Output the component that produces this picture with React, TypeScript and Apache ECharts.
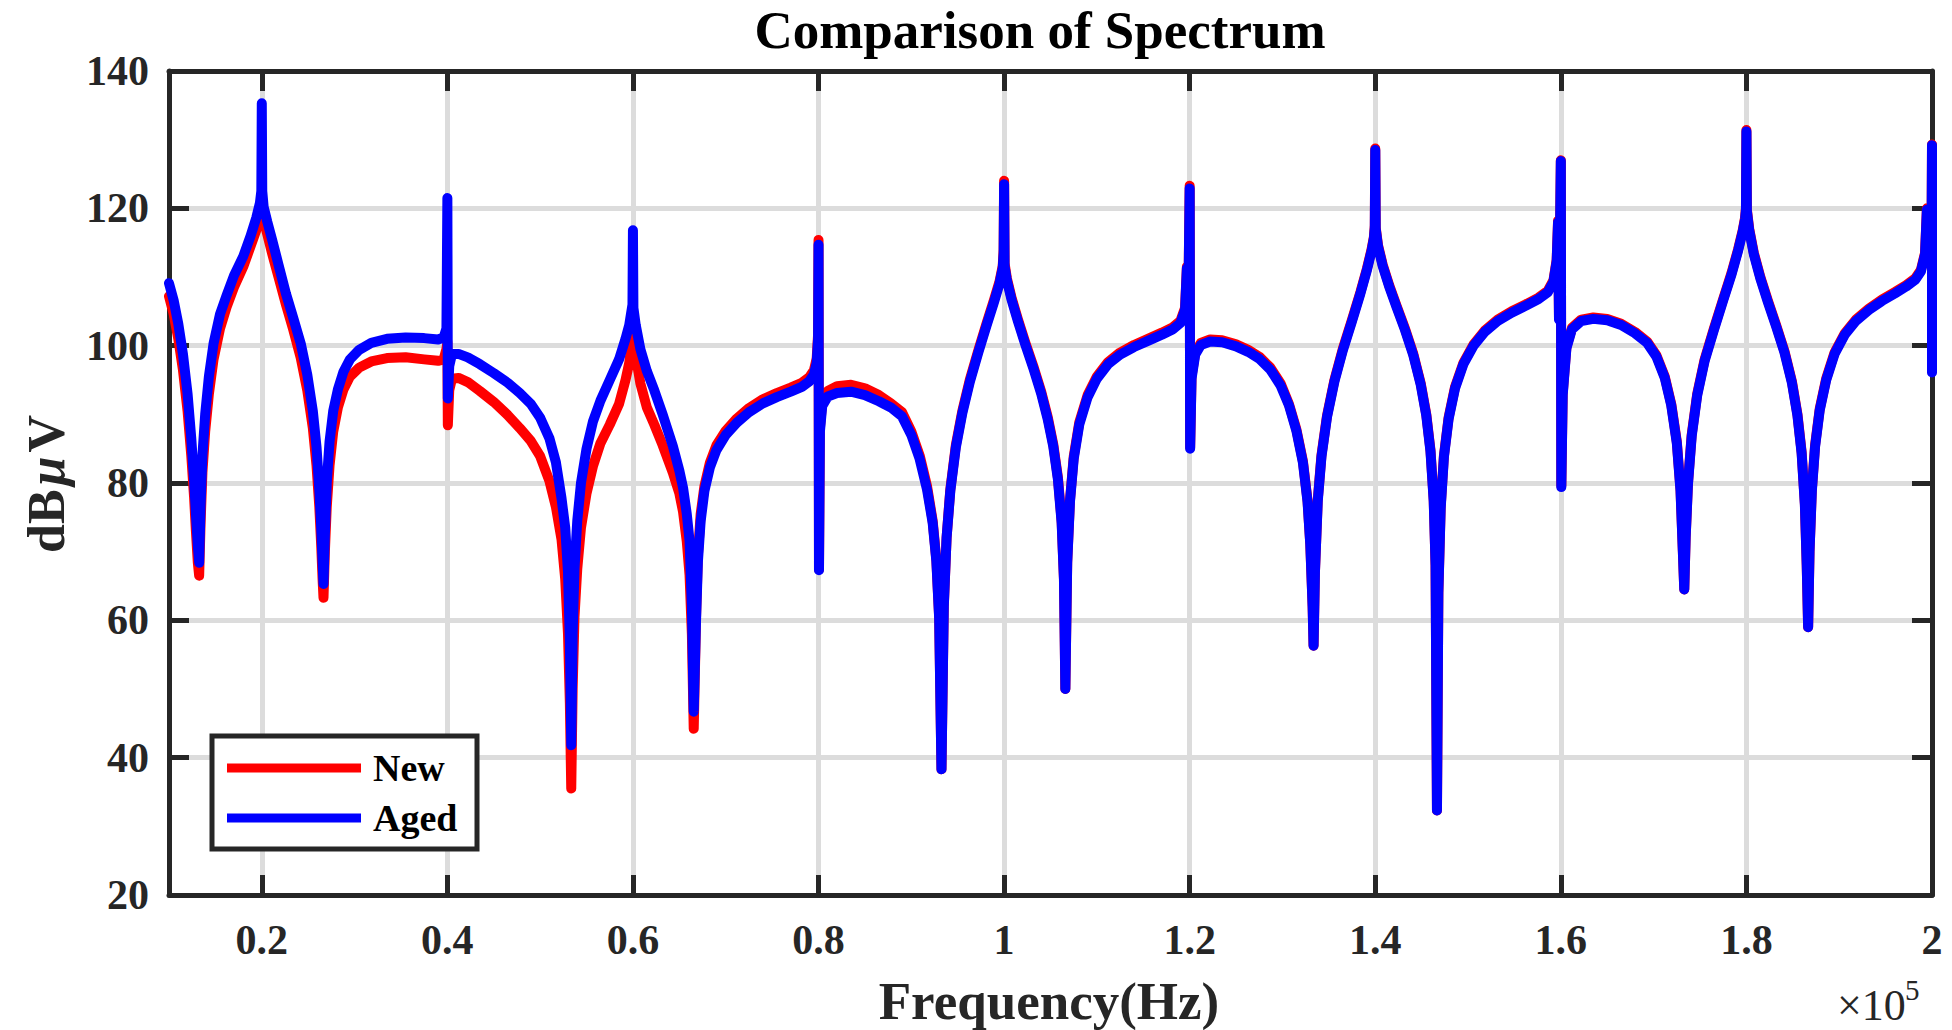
import React, { useEffect, useRef } from "react";
import * as echarts from "echarts";

// Frequency in units of 1e5 Hz (axis shows "x10^5")
const freq = [
  0.1, 0.105, 0.11, 0.115, 0.12, 0.124, 0.127, 0.129, 0.131, 0.1325, 0.134, 0.136, 0.139, 0.143, 0.148, 0.155, 0.162, 0.17, 0.18, 0.188, 0.194, 0.198, 0.1995, 0.2,
  0.2005, 0.202, 0.206, 0.211, 0.218, 0.226, 0.234, 0.242, 0.249, 0.255, 0.259, 0.262, 0.264, 0.2655, 0.2665, 0.268, 0.27, 0.273, 0.277, 0.282, 0.288, 0.295, 0.305, 0.318, 0.335, 0.355, 0.375, 0.39, 0.396, 0.399, 0.4,
  0.4005, 0.402, 0.405, 0.412, 0.422, 0.435, 0.45, 0.465, 0.478, 0.49, 0.5, 0.51, 0.517, 0.523, 0.527, 0.53, 0.532, 0.5335, 0.535, 0.537, 0.54, 0.544, 0.55, 0.557, 0.565, 0.575, 0.585, 0.592, 0.596, 0.5995, 0.6,
  0.6005, 0.603, 0.608, 0.615, 0.623, 0.632, 0.643, 0.65, 0.654, 0.658, 0.661, 0.6635, 0.6655, 0.668, 0.67, 0.673, 0.677, 0.683, 0.69, 0.7, 0.712, 0.725, 0.74, 0.755, 0.77, 0.782, 0.79, 0.795, 0.798, 0.7995, 0.8,
  0.8005, 0.8015, 0.804, 0.81, 0.82, 0.835, 0.85, 0.865, 0.878, 0.89, 0.9, 0.909, 0.917, 0.923, 0.927, 0.93, 0.9325, 0.935, 0.938, 0.942, 0.948, 0.955, 0.963, 0.972, 0.981, 0.989, 0.995, 0.9985, 0.9995, 1.0,
  1.0005, 1.003, 1.008, 1.015, 1.023, 1.032, 1.04, 1.047, 1.053, 1.058, 1.062, 1.0645, 1.066, 1.068, 1.071, 1.075, 1.081, 1.09, 1.1, 1.112, 1.125, 1.14, 1.155, 1.17, 1.182, 1.19, 1.195, 1.197, 1.1985, 1.2,
  1.2005, 1.202, 1.206, 1.212, 1.222, 1.235, 1.25, 1.263, 1.275, 1.287, 1.298, 1.307, 1.315, 1.322, 1.327, 1.33, 1.3325, 1.3335, 1.335, 1.338, 1.342, 1.348, 1.356, 1.365, 1.375, 1.384, 1.391, 1.396, 1.3985, 1.3995, 1.4,
  1.4005, 1.403, 1.408, 1.415, 1.423, 1.432, 1.441, 1.449, 1.455, 1.4595, 1.463, 1.465, 1.4665, 1.468, 1.4705, 1.474, 1.479, 1.486, 1.495, 1.506, 1.518, 1.532, 1.547, 1.562, 1.576, 1.586, 1.592, 1.5955, 1.597, 1.598, 1.6,
  1.6005, 1.602, 1.606, 1.612, 1.622, 1.635, 1.65, 1.665, 1.68, 1.693, 1.703, 1.712, 1.719, 1.725, 1.729, 1.7315, 1.733, 1.7345, 1.737, 1.741, 1.747, 1.755, 1.765, 1.775, 1.784, 1.791, 1.796, 1.7985, 1.7995, 1.8,
  1.8005, 1.803, 1.808, 1.815, 1.823, 1.832, 1.841, 1.849, 1.855, 1.8595, 1.863, 1.865, 1.8665, 1.868, 1.8705, 1.874, 1.879, 1.886, 1.895, 1.906, 1.918, 1.932, 1.946, 1.96, 1.972, 1.982, 1.988, 1.9925, 1.9945, 1.996, 1.9995, 2.0, 2.0,
];

const newDb = [
  107.2, 104.6, 101.0, 96.5, 90.5, 84.0, 78.0, 73.0, 68.5, 66.5, 74.0, 81.5, 87.5, 93.0, 98.0, 102.5, 105.6, 108.5, 111.5, 114.5, 116.8, 118.5, 119.2, 119.5,
  119.2, 118.3, 116.2, 113.5, 110.0, 106.0, 102.3, 98.2, 93.5, 88.0, 82.5, 76.5, 71.0, 66.0, 63.3, 70.0, 76.5, 82.5, 87.5, 91.0, 93.6, 95.5, 96.8, 97.7, 98.2, 98.3, 98.0, 97.8, 98.0, 99.5, 100.5,
  88.4, 93.5, 95.2, 95.3, 94.7, 93.4, 91.8, 89.9, 88.0, 86.1, 83.9, 80.3, 76.5, 71.8, 66.0, 58.0, 48.0, 35.5, 50.0, 60.5, 67.5, 73.5, 78.5, 82.5, 85.8, 88.5, 91.5, 95.0, 97.5, 101.3, 101.8,
  101.0, 98.5, 94.5, 91.0, 88.5, 85.5, 81.5, 78.5, 75.8, 71.5, 66.6, 58.0, 44.2, 60.5, 69.5, 75.5, 79.5, 83.0, 85.5, 87.6, 89.4, 90.9, 92.2, 93.1, 93.9, 94.6, 95.4, 96.4, 98.1, 101.6, 115.4,
  67.4, 88.0, 91.8, 93.4, 94.1, 94.3, 93.8, 92.8, 91.6, 90.3, 87.5, 84.0, 79.5, 74.5, 68.8, 60.5, 38.3, 62.0, 72.0, 79.0, 85.5, 90.5, 95.0, 99.2, 103.2, 106.6, 109.3, 111.6, 114.0, 124.0,
  112.0, 109.8, 107.0, 103.8, 100.4, 96.8, 93.3, 89.6, 85.6, 80.8, 74.5, 66.0, 50.0, 68.5, 77.5, 83.8, 88.8, 92.8, 95.5, 97.6, 99.0, 100.1, 101.0, 101.9, 102.7, 103.6, 105.5, 111.5, 106.0, 123.3,
  85.2, 95.5, 99.0, 100.4, 100.9, 100.8, 100.2, 99.4, 98.4, 96.8, 94.5, 91.5, 87.8, 83.2, 77.5, 71.0, 62.0, 56.3, 67.0, 77.5, 84.0, 89.8, 95.0, 99.5, 103.8, 107.8, 111.2, 114.0, 115.8, 117.5, 128.7,
  117.2, 114.6, 111.8, 108.8, 105.8, 102.5, 98.8, 94.5, 90.0, 84.8, 77.5, 68.0, 32.3, 64.0, 76.5, 84.0, 89.5, 94.0, 97.5, 100.2, 102.2, 103.8, 105.0, 106.0, 107.0, 108.0, 109.5, 112.5, 118.2, 104.0, 127.0,
  79.6, 93.0, 99.8, 102.6, 103.8, 104.1, 103.9, 103.2, 102.0, 100.6, 98.6, 95.5, 91.5, 86.0, 79.0, 70.0, 64.5, 72.0, 80.0, 87.0, 93.0, 98.0, 102.5, 106.8, 110.6, 114.0, 116.8, 118.6, 120.0, 131.4,
  119.8, 117.0, 113.5, 110.0, 106.6, 103.0, 99.2, 94.8, 90.0, 84.5, 77.0, 68.0, 59.0, 70.0, 79.0, 85.5, 90.8, 95.2, 99.0, 101.8, 103.8, 105.4, 106.7, 107.8, 108.8, 109.8, 111.0, 113.5, 120.0, 112.5, 116.0, 129.3, 96.3,
];

const agedDb = [
  109.1, 106.6, 103.2, 98.8, 93.0, 86.5, 80.5, 75.5, 71.0, 68.4, 76.5, 84.0, 90.0, 95.5, 100.3, 104.6, 107.3, 110.2, 113.0, 116.0, 118.6, 120.8, 122.5, 135.3,
  122.5, 120.2, 118.0, 115.5, 111.8, 107.6, 104.0, 100.3, 95.8, 90.5, 85.2, 79.0, 73.5, 68.5, 65.3, 72.5, 80.0, 86.0, 90.5, 93.6, 96.2, 98.0, 99.4, 100.4, 101.0, 101.2, 101.1, 100.9, 101.2, 102.5, 121.5,
  92.3, 97.0, 98.8, 98.8, 98.3, 97.3, 96.0, 94.6, 93.1, 91.5, 89.5, 86.5, 83.0, 77.8, 73.5, 67.0, 57.0, 41.8, 58.0, 67.5, 74.5, 80.0, 85.0, 89.0, 92.0, 95.0, 98.0, 101.0, 103.0, 106.0, 116.8,
  105.5, 103.0, 99.5, 96.3, 93.5, 90.0, 85.4, 81.8, 79.3, 75.5, 71.6, 62.0, 46.7, 60.0, 68.5, 74.5, 78.8, 82.3, 84.8, 87.0, 88.8, 90.3, 91.6, 92.5, 93.3, 94.0, 94.8, 95.8, 97.5, 101.0, 114.7,
  67.3, 87.5, 91.2, 92.6, 93.1, 93.3, 92.8, 91.9, 91.0, 89.7, 87.0, 83.5, 79.0, 74.2, 68.6, 60.3, 38.3, 62.0, 72.0, 78.8, 85.2, 90.2, 94.7, 98.9, 102.9, 106.3, 109.0, 111.3, 113.5, 123.5,
  111.6, 109.5, 106.7, 103.5, 100.1, 96.5, 93.0, 89.3, 85.3, 80.5, 74.2, 66.0, 50.0, 68.3, 77.3, 83.5, 88.5, 92.5, 95.2, 97.3, 98.7, 99.8, 100.7, 101.6, 102.4, 103.3, 105.2, 111.3, 105.8, 122.9,
  85.0, 95.2, 98.7, 100.1, 100.6, 100.5, 99.9, 99.1, 98.1, 96.5, 94.2, 91.3, 87.6, 83.0, 77.3, 71.0, 62.0, 56.3, 67.0, 77.3, 83.8, 89.6, 94.8, 99.3, 103.6, 107.6, 111.0, 113.8, 115.6, 117.2, 128.5,
  117.0, 114.4, 111.6, 108.6, 105.6, 102.3, 98.6, 94.3, 89.8, 84.6, 77.3, 68.0, 32.3, 64.0, 76.3, 83.8, 89.3, 93.8, 97.3, 100.0, 102.0, 103.6, 104.8, 105.8, 106.8, 107.8, 109.3, 112.3, 118.0, 103.8, 126.9,
  79.4, 92.8, 99.6, 102.4, 103.6, 103.9, 103.7, 103.0, 101.8, 100.4, 98.4, 95.3, 91.3, 85.8, 78.8, 70.0, 64.5, 72.0, 79.8, 86.8, 92.8, 97.8, 102.3, 106.6, 110.4, 113.8, 116.6, 118.4, 119.8, 131.2,
  119.6, 116.8, 113.3, 109.8, 106.4, 102.8, 99.0, 94.6, 89.8, 84.3, 76.8, 68.0, 59.0, 70.0, 78.8, 85.3, 90.6, 95.0, 98.8, 101.6, 103.6, 105.2, 106.5, 107.6, 108.6, 109.6, 110.8, 113.3, 119.8, 112.3, 115.8, 129.2, 96.1,
];

const xTicks = [0.2, 0.4, 0.6, 0.8, 1, 1.2, 1.4, 1.6, 1.8, 2];
const X_MIN = 0.1;
const X_MAX = 2;
const Y_MIN = 20;
const Y_MAX = 140;
const Y_STEP = 20;

const seriesNames = ["New", "Aged"];
const seriesColors = ["#ff0000", "#0000ff"];

const FONT = '"Liberation Serif", "Times New Roman", Times, serif';
const AXIS = "#262626";
const GRID = "#dcdcdc";

export default function App() {
  const ref = useRef<HTMLDivElement>(null);

  useEffect(() => {
    if (!ref.current) return;
    const chart = echarts.init(ref.current, null, { renderer: "svg" });
    const n = Math.min(freq.length, newDb.length, agedDb.length);
    const pairs = (vals: number[]) => freq.slice(0, n).map((f, i) => [f, vals[i]]);
    const lineStyleAxis = { color: AXIS, width: 5 };
    const labelStyle = { color: AXIS, fontSize: 42, fontWeight: "bold", fontFamily: FONT };

    const gridL = 169;
    const gridT = 71;
    const gridW = 1763;
    const gridH = 824;

    const legX = 212;
    const legY = 736;

    chart.setOption({
      animation: false,
      backgroundColor: "#ffffff",
      grid: { left: gridL, top: gridT, width: gridW, height: gridH, containLabel: false, outerBoundsMode: "none" },
      xAxis: [
        {
          type: "value",
          min: X_MIN,
          max: X_MAX,
          position: "bottom",
          axisLine: { show: true, onZero: false, lineStyle: lineStyleAxis },
          axisTick: { show: true, inside: true, length: 20, customValues: xTicks, lineStyle: lineStyleAxis },
          axisLabel: { show: true, customValues: xTicks, margin: 24, ...labelStyle, formatter: (v: number) => String(v) },
          splitLine: { show: true, lineStyle: { color: GRID, width: 5 } },
        },
        {
          type: "value",
          min: X_MIN,
          max: X_MAX,
          position: "top",
          axisLine: { show: true, onZero: false, lineStyle: lineStyleAxis },
          axisTick: { show: true, inside: true, length: 20, customValues: xTicks, lineStyle: lineStyleAxis },
          axisLabel: { show: false },
          splitLine: { show: false },
        },
      ],
      yAxis: [
        {
          type: "value",
          min: Y_MIN,
          max: Y_MAX,
          interval: Y_STEP,
          position: "left",
          axisLine: { show: true, onZero: false, lineStyle: lineStyleAxis },
          axisTick: { show: true, inside: true, length: 20, lineStyle: lineStyleAxis },
          axisLabel: { show: true, margin: 20, ...labelStyle },
          splitLine: { show: true, lineStyle: { color: GRID, width: 5 } },
        },
        {
          type: "value",
          min: Y_MIN,
          max: Y_MAX,
          interval: Y_STEP,
          position: "right",
          axisLine: { show: true, onZero: false, lineStyle: lineStyleAxis },
          axisTick: { show: true, inside: true, length: 20, lineStyle: lineStyleAxis },
          axisLabel: { show: false },
          splitLine: { show: false },
        },
      ],
      series: [
        {
          name: seriesNames[0],
          type: "line",
          xAxisIndex: 0,
          yAxisIndex: 0,
          data: pairs(newDb),
          showSymbol: false,
          symbol: "none",
          clip: false,
          z: 3,
          lineStyle: { color: seriesColors[0], width: 10, cap: "round", join: "round" },
          itemStyle: { color: seriesColors[0] },
        },
        {
          name: seriesNames[1],
          type: "line",
          xAxisIndex: 0,
          yAxisIndex: 0,
          data: pairs(agedDb),
          showSymbol: false,
          symbol: "none",
          clip: false,
          z: 4,
          lineStyle: { color: seriesColors[1], width: 10, cap: "round", join: "round" },
          itemStyle: { color: seriesColors[1] },
        },
      ],
      graphic: [
        {
          type: "text",
          x: 1040,
          y: 30,
          z: 100,
          style: {
            text: "Comparison of Spectrum",
            fill: "#000",
            fontSize: 53,
            fontWeight: "bold",
            fontFamily: FONT,
            align: "center",
            verticalAlign: "middle",
          },
        },
        {
          type: "text",
          x: 1049,
          y: 1001,
          z: 100,
          style: {
            text: "Frequency(Hz)",
            fill: AXIS,
            fontSize: 53,
            fontWeight: "bold",
            fontFamily: FONT,
            align: "center",
            verticalAlign: "middle",
          },
        },
        {
          type: "text",
          x: 46,
          y: 484,
          rotation: Math.PI / 2,
          z: 100,
          style: {
            text: "{n|dB}{m|μ}{n|V}",
            fill: AXIS,
            fontSize: 52,
            fontWeight: "bold",
            fontFamily: FONT,
            align: "center",
            verticalAlign: "middle",
            rich: {
              n: { fontSize: 52, fontWeight: "bold", fontFamily: FONT, fill: AXIS },
              m: { fontSize: 52, fontWeight: "bold", fontStyle: "italic", fontFamily: FONT, fill: AXIS, padding: [0, 4, 0, 4] },
            },
          },
        },
        {
          type: "text",
          x: 1837,
          y: 1005,
          z: 100,
          style: {
            text: "×10",
            fill: AXIS,
            fontSize: 44,
            fontWeight: "normal",
            fontFamily: FONT,
            align: "left",
            verticalAlign: "middle",
          },
        },
        {
          type: "text",
          x: 1905,
          y: 990,
          z: 100,
          style: {
            text: "5",
            fill: AXIS,
            fontSize: 29,
            fontWeight: "normal",
            fontFamily: FONT,
            align: "left",
            verticalAlign: "middle",
          },
        },
        {
          type: "rect",
          z: 100,
          shape: { x: legX, y: legY, width: 265, height: 113 },
          style: { fill: "#ffffff", stroke: AXIS, lineWidth: 5 },
        },
        {
          type: "line",
          z: 101,
          shape: { x1: legX + 15, y1: legY + 32, x2: legX + 149, y2: legY + 32 },
          style: { stroke: seriesColors[0], lineWidth: 9 },
        },
        {
          type: "line",
          z: 101,
          shape: { x1: legX + 15, y1: legY + 82, x2: legX + 149, y2: legY + 82 },
          style: { stroke: seriesColors[1], lineWidth: 9 },
        },
        {
          type: "text",
          x: legX + 161,
          y: legY + 32,
          z: 101,
          style: {
            text: seriesNames[0],
            fill: "#000",
            fontSize: 38,
            fontWeight: "bold",
            fontFamily: FONT,
            align: "left",
            verticalAlign: "middle",
          },
        },
        {
          type: "text",
          x: legX + 161,
          y: legY + 82,
          z: 101,
          style: {
            text: seriesNames[1],
            fill: "#000",
            fontSize: 38,
            fontWeight: "bold",
            fontFamily: FONT,
            align: "left",
            verticalAlign: "middle",
          },
        },
      ],
    });

    return () => {
      chart.dispose();
    };
  }, []);

  return (
    <div
      ref={ref}
      style={{ position: "fixed", left: 0, top: 0, width: 1952, height: 1030, background: "#ffffff" }}
    />
  );
}
